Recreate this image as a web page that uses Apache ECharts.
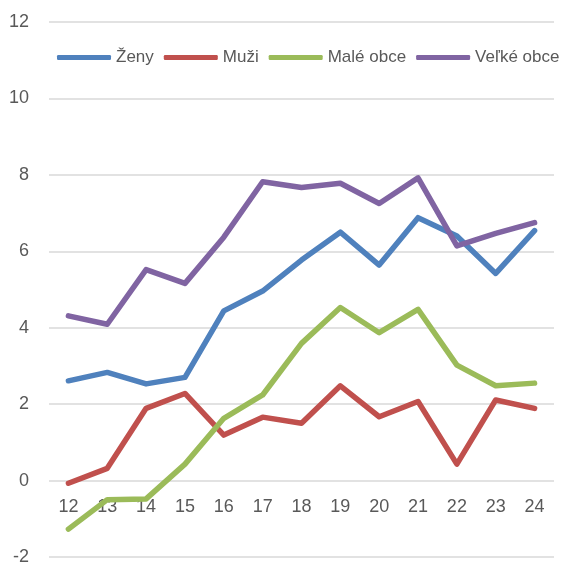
<!DOCTYPE html>
<html>
<head>
<meta charset="utf-8">
<script src="https://cdn.jsdelivr.net/npm/echarts@6/dist/echarts.min.js"></script>
<style>
  html, body { margin: 0; padding: 0; background: #fff; }
  #chart { width: 573px; height: 564px; }
</style>
</head>
<body>
<div id="chart"></div>
<script>
// údaje z grafu
const roky = ['12', '13', '14', '15', '16', '17', '18', '19', '20', '21', '22', '23', '24']
const zeny = [2.61, 2.83, 2.53, 2.7, 4.44, 4.96, 5.77, 6.5, 5.64, 6.88, 6.4, 5.42, 6.54]
const muzi = [-0.07, 0.32, 1.89, 2.28, 1.19, 1.66, 1.5, 2.48, 1.67, 2.07, 0.43, 2.11, 1.89]
const maleObce = [-1.27, -0.5, -0.48, 0.43, 1.63, 2.24, 3.59, 4.53, 3.87, 4.48, 3.02, 2.48, 2.55]
const velkeObce = [4.31, 4.09, 5.52, 5.16, 6.37, 7.82, 7.67, 7.78, 7.25, 7.92, 6.14, 6.47, 6.75]

const font = "'Liberation Sans', Arial, sans-serif"

const chart = echarts.init(document.getElementById('chart'))

const seria = (name, data, color) => ({
  name,
  type: 'line',
  data,
  symbol: 'none',
  lineStyle: { width: 5.5, color, cap: 'round', join: 'round' },
  itemStyle: { color },
})

// výška gridu / rozsah osi -> os x posunieme na nulu
const gridTop = 22
const gridBottom = 7
const zeroOffset = -((564 - gridTop - gridBottom) / 14) * 2

chart.setOption({
  animation: false,
  grid: { left: 49, right: 19, top: gridTop, bottom: gridBottom, outerBoundsMode: 'none', containLabel: false },
  legend: {
    top: 49,
    left: 57,
    padding: 0,
    itemWidth: 54,
    itemHeight: 5,
    itemGap: 10,
    icon: 'roundRect',
    textStyle: { fontFamily: font, fontSize: 17, color: '#595959' },
    data: ['Ženy', 'Muži', 'Malé obce', 'Veľké obce'],
  },
  xAxis: {
    type: 'category',
    data: roky,
    boundaryGap: true,
    offset: zeroOffset,
    axisLine: { show: false, onZero: false },
    axisTick: { show: false },
    axisLabel: { margin: 17, fontFamily: font, fontSize: 18, color: '#595959' },
  },
  yAxis: {
    type: 'value',
    min: -2,
    max: 12,
    interval: 2,
    axisLine: { show: false },
    axisTick: { show: false },
    splitLine: { lineStyle: { color: '#D9D9D9', width: 1.5 } },
    axisLabel: { margin: 20, fontFamily: font, fontSize: 18, color: '#595959' },
  },
  series: [
    seria('Ženy', zeny, '#4F81BD'),
    seria('Muži', muzi, '#C0504D'),
    seria('Malé obce', maleObce, '#9BBB59'),
    seria('Veľké obce', velkeObce, '#8064A2'),
  ],
})

window.addEventListener('resize', () => {
  chart.resize()
})
</script>
</body>
</html>
